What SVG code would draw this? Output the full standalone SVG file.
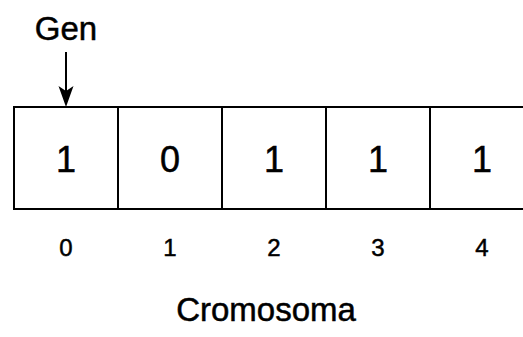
<svg xmlns="http://www.w3.org/2000/svg" width="523" height="337" viewBox="0 0 523 337">
<style>
.cell{fill:#fff;stroke:#000;stroke-width:2}
.t{font-family:"Liberation Sans",Arial,sans-serif;fill:#000;text-anchor:middle;stroke:#000;stroke-width:0.5}
.big{font-size:36px}
.idx{font-size:24px}
.lbl{font-size:33px}
</style>
<rect width="523" height="337" fill="#fff"/>
<g id="gen"><text class="t lbl" x="66" y="40">Gen</text></g>
<g id="cell0"><rect class="cell" x="14" y="107" width="104" height="102"/><text class="t big" x="66" y="172">1</text></g>
<g id="cell1"><rect class="cell" x="118" y="107" width="104" height="102"/><text class="t big" x="170" y="172">0</text></g>
<g id="cell2"><rect class="cell" x="222" y="107" width="104" height="102"/><text class="t big" x="274" y="172">1</text></g>
<g id="cell3"><rect class="cell" x="326" y="107" width="104" height="102"/><text class="t big" x="378" y="172">1</text></g>
<g id="cell4"><rect class="cell" x="430" y="107" width="104" height="102"/><text class="t big" x="482" y="172">1</text></g>
<g id="idx">
<text class="t idx" x="66" y="256">0</text>
<text class="t idx" x="170" y="256">1</text>
<text class="t idx" x="274" y="256">2</text>
<text class="t idx" x="378" y="256">3</text>
<text class="t idx" x="482" y="256">4</text>
</g>
<g id="cromosoma"><text class="t lbl" x="266" y="321">Cromosoma</text></g>
<g id="connectors"><line x1="66" y1="52" x2="66" y2="93" stroke="#000" stroke-width="2"/><path d="M66,107 L58.5,86 L66,91 L73.5,86 Z" fill="#000"/></g>
</svg>
